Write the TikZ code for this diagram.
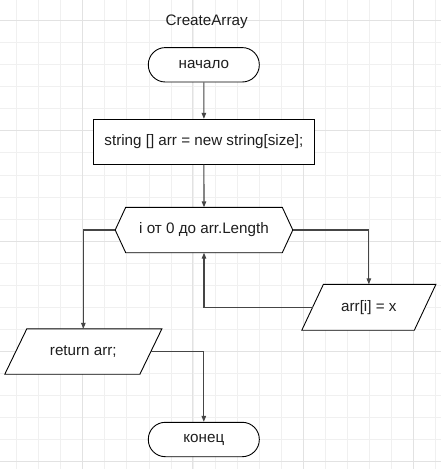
\documentclass[tikz,border=0pt]{standalone}
\usepackage{fontspec}
\setmainfont{Liberation Sans}
\usetikzlibrary{arrows.meta}
\definecolor{gridminor}{HTML}{F0F0F0}
\definecolor{gridmajor}{HTML}{E2E2E2}
\definecolor{conn}{HTML}{454545}
\definecolor{txt}{HTML}{1E1E1E}
\begin{document}
\begin{tikzpicture}[x=1bp,y=-1bp,
  font=\fontsize{15.2bp}{18bp}\selectfont,
  every node/.style={text=txt, inner sep=0pt},
  minorline/.style={draw=gridminor, line width=1bp},
  majorline/.style={draw=gridmajor, line width=1bp},
  terminal/.style={draw=black, line width=0.9bp, rounded corners=17bp, minimum width=111bp, minimum height=34.4bp, fill=white},
  procbox/.style={draw=black, line width=0.9bp, minimum width=221bp, minimum height=45bp, fill=white},
  shapebox/.style={minimum height=45bp},
  outline/.style={draw=black, line width=0.9bp, fill=white},
  connector/.style={draw=conn, line width=1.1bp, -{Triangle[length=6bp,width=4.5bp]}},
  plainconn/.style={draw=conn, line width=1.1bp}
]
\useasboundingbox (0,0) rectangle (441,469);
\fill[white] (0,0) rectangle (441,469);
% grid
\foreach \i in {0,...,19} {
  \pgfmathsetmacro{\gx}{16.7+22.05*\i}
  \draw[minorline] (\gx,0) -- (\gx,469);
}
\foreach \i in {0,...,20} {
  \pgfmathsetmacro{\gy}{20.7+22.05*\i}
  \draw[minorline] (0,\gy) -- (441,\gy);
}
\foreach \i in {0,...,3} {
  \pgfmathsetmacro{\gx}{82.7+110.25*\i}
  \draw[majorline] (\gx,0) -- (\gx,469);
}
\foreach \i in {0,...,4} {
  \pgfmathsetmacro{\gy}{20.7+110.25*\i}
  \draw[majorline] (0,\gy) -- (441,\gy);
}

% title
\node[anchor=base] (title) at (206.7,26) {CreateArray};

% start
\node[terminal] (start) at (203.8,64.8) {начало};

% process
\node[procbox] (proc) at (203.9,141.8) {string [] arr = new string[size];};

% loop hexagon
\node[shapebox, minimum width=177.2bp] (loop) at (204,230) {};
\path[outline] (loop.west) -- ([xshift=10.5bp]loop.north west) -- ([xshift=-10.5bp]loop.north east)
  -- (loop.east) -- ([xshift=-10.5bp]loop.south east) -- ([xshift=10.5bp]loop.south west) -- cycle;
\node at (loop.center) {i от 0 до arr.Length};

% assignment parallelogram
\node[shapebox, minimum width=133.7bp, minimum height=45.5bp] (assign) at (368.85,307.3) {};
\path[outline] ([xshift=21.6bp]assign.north west) -- (assign.north east)
  -- ([xshift=-21.6bp]assign.south east) -- (assign.south west) -- cycle;
\node at (assign.center) {arr[i] = x};

% return parallelogram
\node[shapebox, minimum width=156.7bp] (ret) at (83.35,351.5) {};
\path[outline] ([xshift=22bp]ret.north west) -- (ret.north east)
  -- ([xshift=-22bp]ret.south east) -- (ret.south west) -- cycle;
\node at (ret.center) {return arr;};

% end
\node[terminal] (finish) at (203.8,439.5) {конец};

% connectors
\draw[connector] (start.south) -- (proc.north);
\draw[connector] (proc.south) -- (loop.north);
\draw[connector] (loop.east) -| (assign.north);
\draw[connector] ([xshift=10.8bp]assign.west) -| (loop.south);
\draw[connector] (loop.west) -| (ret.north);
\draw[connector] ([xshift=-11bp]ret.east) -| (finish.north);
\end{tikzpicture}
\end{document}
